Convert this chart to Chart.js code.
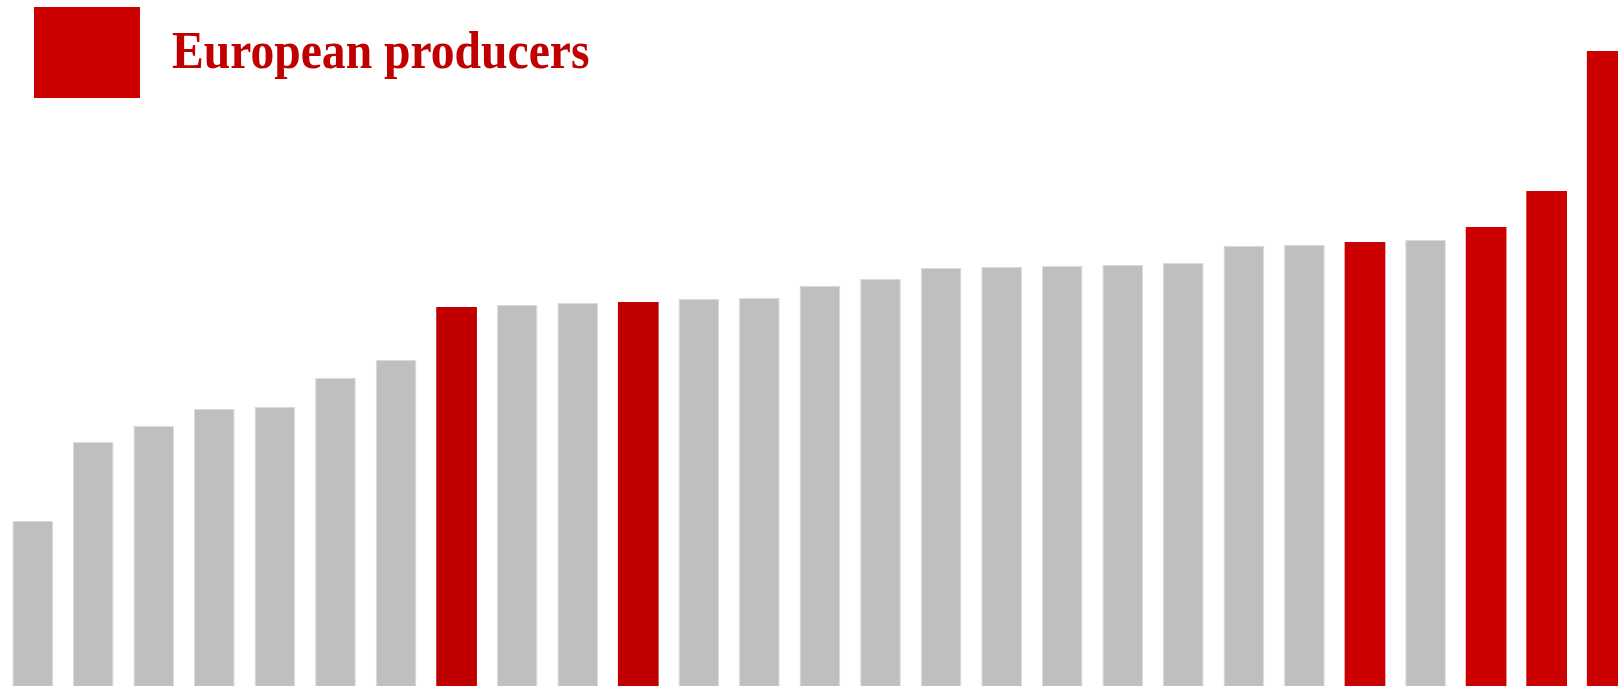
<!DOCTYPE html>
<html>
<head>
<meta charset="utf-8">
<script src="https://cdn.jsdelivr.net/npm/chart.js@4"></script>
<style>
    html, body { margin: 0; padding: 0; background: #fff; overflow: hidden; }
    #wrap { position: absolute; left: 0; top: 0; width: 1640px; height: 686px; }
    #legend-box { position: absolute; left: 34px; top: 7px; width: 106px; height: 91px; background: #cc0000; }
    #legend-text {
        position: absolute; left: 172px; top: 24px;
        font-family: "Liberation Serif", "Times New Roman", serif;
        font-weight: bold; font-size: 53px; line-height: 53px;
        color: #c00000; white-space: nowrap;
        transform: scaleX(0.898); transform-origin: left top;
    }
</style>
</head>
<body>
<div id="wrap"><canvas id="chart"></canvas></div>
<div id="legend-box"></div>
<div id="legend-text">European producers</div>
<script>
// Producers, sorted by value (labels not shown in the picture)
const producers = ['P1', 'P2', 'P3', 'P4', 'P5', 'P6', 'P7', 'P8', 'P9', 'P10',
    'P11', 'P12', 'P13', 'P14', 'P15', 'P16', 'P17', 'P18', 'P19', 'P20',
    'P21', 'P22', 'P23', 'P24', 'P25', 'P26', 'P27'];

const values = [16.5, 24.4, 26.0, 27.7, 27.9, 30.8, 32.6, 37.9, 38.1, 38.3,
    38.4, 38.7, 38.8, 40.0, 40.7, 41.8, 41.9, 42.0, 42.1, 42.3,
    44.0, 44.1, 44.4, 44.6, 45.9, 49.5, 63.5];

// which bars are European producers (eu2 = the two darker ones)
const group = ['o', 'o', 'o', 'o', 'o', 'o', 'o', 'eu2', 'o', 'o',
    'eu2', 'o', 'o', 'o', 'o', 'o', 'o', 'o', 'o', 'o',
    'o', 'o', 'eu', 'o', 'eu', 'eu', 'eu'];

const yMax = 68.6;

const fills = { o: '#bfbfbf', eu: '#cc0000', eu2: '#c00000' };
const edges = { o: '#dadada', eu: '#cc0000', eu2: '#c00000' };

new Chart(document.getElementById('chart').getContext('2d'), {
    type: 'bar',
    data: {
        labels: producers,
        datasets: [{
            label: 'European producers',
            data: values,
            backgroundColor: group.map(g => fills[g]),
            borderColor: group.map(g => edges[g]),
            borderWidth: group.map(g => g === 'o' ? 1 : 0),
            barPercentage: 0.672,
            categoryPercentage: 1.0
        }]
    },
    options: {
        responsive: true,
        maintainAspectRatio: false,
        animation: false,
        layout: { padding: { left: 2.4, right: 2.5, top: 0, bottom: 0 } },
        plugins: {
            legend: { display: false },
            tooltip: { enabled: false }
        },
        scales: {
            x: { display: false },
            y: { display: false, min: 0, max: yMax }
        }
    }
});
</script>
</body>
</html>
